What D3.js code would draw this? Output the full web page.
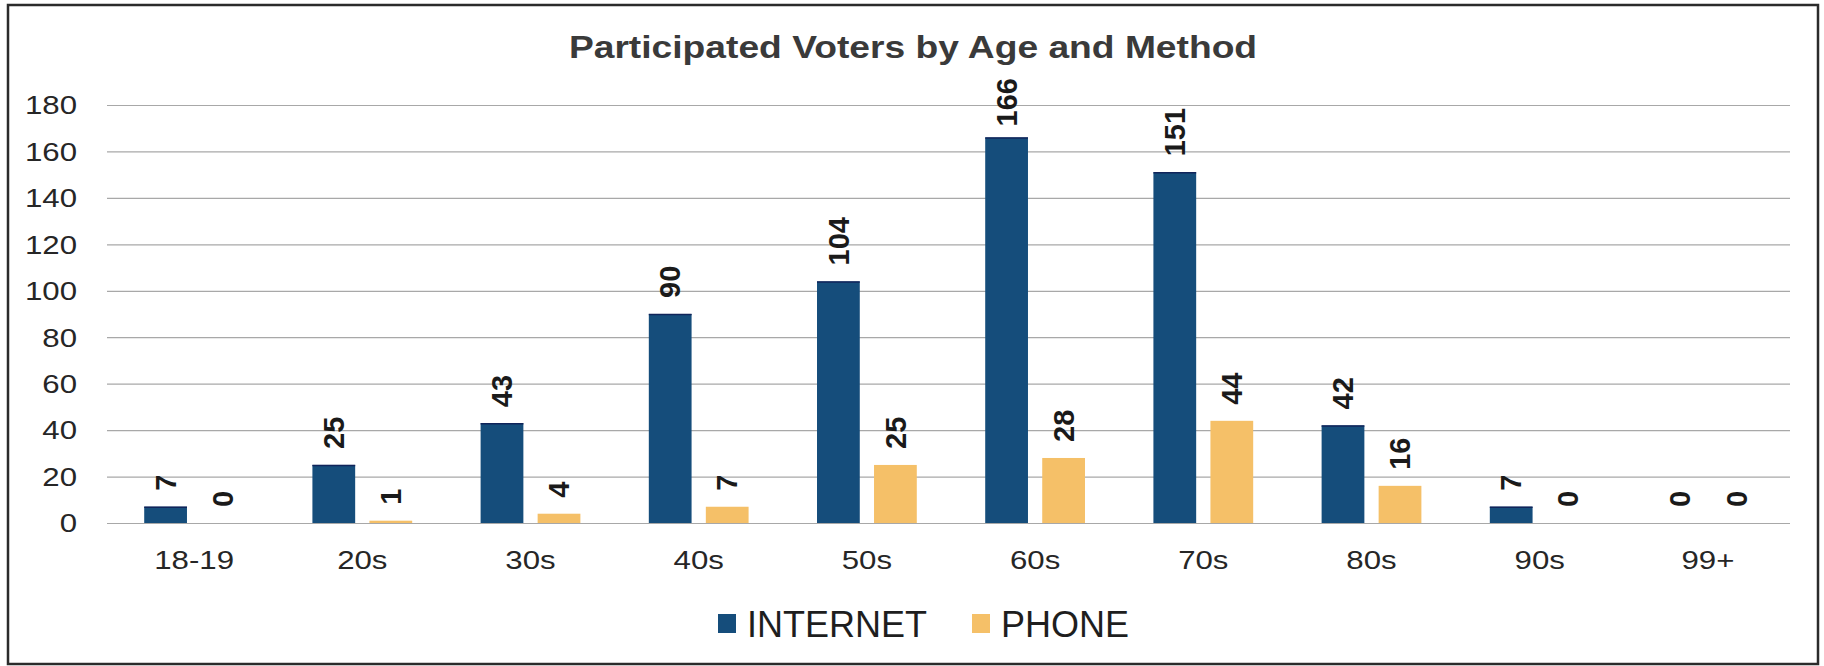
<!DOCTYPE html>
<html>
<head>
<meta charset="utf-8">
<script src="https://cdn.jsdelivr.net/npm/d3@7"></script>
<style>
  body { margin: 0; background: #fff; }
  text { font-family: "Liberation Sans", Arial, sans-serif; }
</style>
</head>
<body>
<svg id="chart" width="1824" height="666"></svg>
<script>
const categories = ["18-19", "20s", "30s", "40s", "50s", "60s", "70s", "80s", "90s", "99+"];
const seriesNames = ["INTERNET", "PHONE"];
const internet = [7, 25, 43, 90, 104, 166, 151, 42, 7, 0];
const phone = [0, 1, 4, 7, 25, 28, 44, 16, 0, 0];
const yTicks = [0, 20, 40, 60, 80, 100, 120, 140, 160, 180];
const title = "Participated Voters by Age and Method";

const colors = { INTERNET: "#154d7b", PHONE: "#f5c068" };
const stretch = 1.2; // scan is a bit wider than the font

const svg = d3.select("#chart");

// frame
svg.append("rect")
    .attr("x", 8).attr("y", 5)
    .attr("width", 1810).attr("height", 659)
    .attr("fill", "#fff")
    .attr("stroke", "#2b2b2b")
    .attr("stroke-width", 2.5);

const plot = { left: 107, right: 1790, top: 105, bottom: 523 };

const x0 = d3.scaleBand()
    .domain(categories)
    .range([plot.left + 3, plot.right + 2]);

const x1 = d3.scaleBand()
    .domain(seriesNames)
    .range([0, x0.bandwidth()])
    .paddingInner(0.25)
    .paddingOuter(0.6);

const y = d3.scaleLinear()
    .domain([0, 180])
    .range([plot.bottom, plot.top]);

// gridlines
const yAxis = d3.axisLeft(y)
    .tickValues(yTicks)
    .tickSize(-(plot.right - plot.left))
    .tickFormat("");

const grid = svg.append("g")
    .attr("transform", `translate(${plot.left},0)`)
    .call(yAxis);
grid.select(".domain").remove();
grid.selectAll(".tick line")
    .attr("stroke", "#a8a8a8")
    .attr("stroke-width", 1.2);

// y labels
svg.append("g").selectAll("g")
    .data(yTicks)
    .enter()
    .append("g")
    .attr("transform", d => `translate(77,${y(d)}) scale(${stretch},1)`)
    .append("text")
    .attr("text-anchor", "end")
    .attr("dy", "0.36em")
    .attr("font-size", 26)
    .attr("fill", "#262626")
    .text(d => d);

// x labels
svg.append("g").selectAll("g")
    .data(categories)
    .enter()
    .append("g")
    .attr("transform", d => `translate(${x0(d) + x0.bandwidth() / 2},569) scale(${stretch},1)`)
    .append("text")
    .attr("text-anchor", "middle")
    .attr("font-size", 26)
    .attr("fill", "#262626")
    .text(d => d);

// bars
const rows = categories.map((c, i) => ({
    category: c,
    values: [
        { key: "INTERNET", value: internet[i] },
        { key: "PHONE", value: phone[i] }
    ]
}));

const groups = svg.append("g").selectAll(".group")
    .data(rows)
    .enter()
    .append("g")
    .attr("class", "group")
    .attr("transform", d => `translate(${x0(d.category)},0)`);

groups.selectAll("rect")
    .data(d => d.values)
    .enter()
    .append("rect")
    .attr("x", d => x1(d.key))
    .attr("y", d => y(d.value))
    .attr("width", x1.bandwidth())
    .attr("height", d => y(0) - y(d.value))
    .attr("fill", d => colors[d.key]);

// dark top edge on internet bars
groups.selectAll("line.edge")
    .data(d => d.values.filter(v => v.key === "INTERNET" && v.value > 0))
    .enter()
    .append("line")
    .attr("class", "edge")
    .attr("x1", d => x1(d.key))
    .attr("x2", d => x1(d.key) + x1.bandwidth())
    .attr("y1", d => y(d.value) + 0.5)
    .attr("y2", d => y(d.value) + 0.5)
    .attr("stroke", "#10245a")
    .attr("stroke-width", 1.5);

// value labels, rotated, kept inside the chart area
const labelGap = 16, labelTop = 78;
groups.selectAll("text.value")
    .data(d => d.values)
    .enter()
    .append("text")
    .attr("class", "value")
    .attr("font-size", 29)
    .attr("font-weight", "bold")
    .attr("fill", "#1a1a1a")
    .attr("dy", "0.35em")
    .text(d => d.value)
    .each(function (d) {
        const len = this.getComputedTextLength();
        const start = Math.max(y(d.value) - labelGap, labelTop + len);
        const cx = x1(d.key) + x1.bandwidth() / 2;
        d3.select(this).attr("transform", `translate(${cx},${start}) rotate(-90)`);
    });

// title
svg.append("g")
    .attr("transform", `translate(913,58) scale(${stretch},1)`)
    .append("text")
    .attr("text-anchor", "middle")
    .attr("font-size", 31)
    .attr("font-weight", "bold")
    .attr("fill", "#3a3a3a")
    .text(title);

// legend
const legendPos = [{ key: "INTERNET", x: 718 }, { key: "PHONE", x: 972 }];
const legend = svg.append("g").selectAll("g")
    .data(legendPos)
    .enter()
    .append("g")
    .attr("transform", d => `translate(${d.x},614)`);

legend.append("rect")
    .attr("width", 18)
    .attr("height", 19)
    .attr("fill", d => colors[d.key]);

legend.append("text")
    .attr("x", 29)
    .attr("y", 23)
    .attr("font-size", 36)
    .attr("fill", "#1e1e1e")
    .text(d => d.key);
</script>
</body>
</html>
